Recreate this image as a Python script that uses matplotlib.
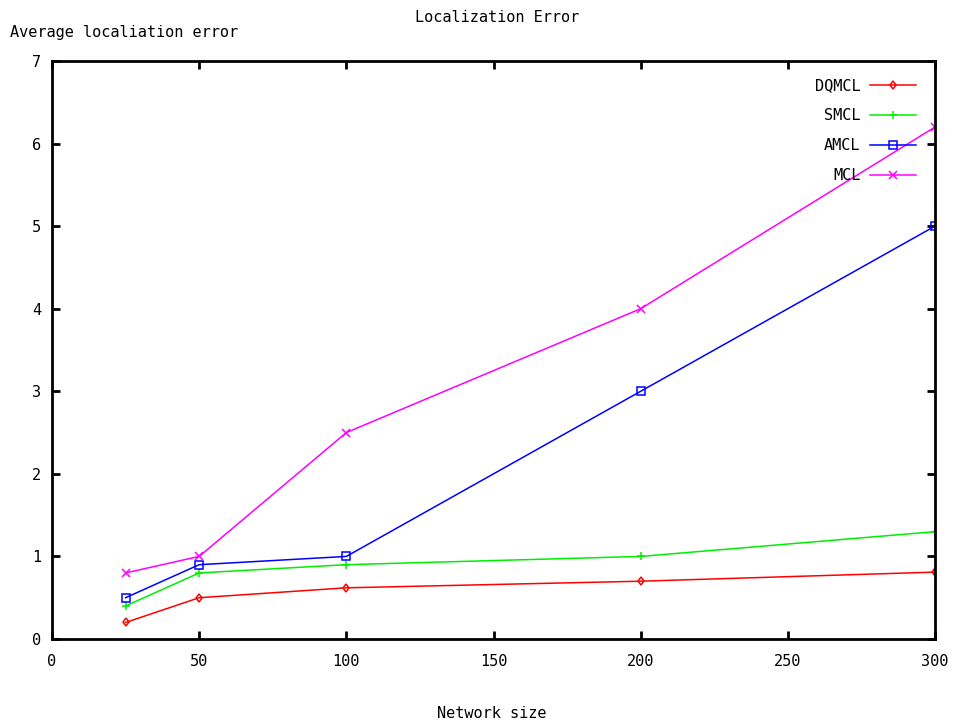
import matplotlib
matplotlib.use("Agg")
import matplotlib.pyplot as plt

# network sizes and average localization error per method
network_size = [25, 50, 100, 200, 300]
dqmcl = [0.2, 0.5, 0.62, 0.7, 0.81]
smcl = [0.4, 0.8, 0.9, 1.0, 1.3]
amcl = [0.5, 0.9, 1.0, 3.0, 5.0]
mcl = [0.8, 1.0, 2.5, 4.0, 6.2]

series = [
    ("DQMCL", dqmcl, "#ff0000", "d"),
    ("SMCL", smcl, "#00ee00", "+"),
    ("AMCL", amcl, "#0000ff", "s"),
    ("MCL", mcl, "#ff00ff", "x"),
]

plt.rcParams["font.family"] = ["DejaVu Sans Mono"]
plt.rcParams["font.size"] = 11

fig = plt.figure(figsize=(9.56, 7.25), dpi=100)
ax = fig.add_axes([52 / 956, 86 / 725, 883 / 956, 578 / 725])

for name, vals, col, mk in series:
    ax.plot(network_size, vals, color=col, lw=1.1, marker=mk,
            ms=4.5 if mk == "d" else 5.5,
            mfc="none" if mk in ("s", "d") else col, mec=col, mew=1.1,
            label=name)

ax.set_xlim(0, 300)
ax.set_ylim(0, 7)
ax.set_xticks(range(0, 301, 50))
ax.set_yticks(range(0, 8))
ax.tick_params(axis="both", direction="in", length=6, width=2, top=True, right=True,
               labelsize=11, colors="black")
ax.tick_params(axis="x", pad=11)
ax.tick_params(axis="y", pad=8)
for s in ax.spines.values():
    s.set_linewidth(2)

fig.text(497 / 956, 1 - 17 / 725, "Localization Error", ha="center", va="center", fontsize=11)
fig.text(10 / 956, 1 - 33 / 725, "Average localiation error", ha="left", va="center", fontsize=11)
fig.text(492 / 956, 1 - 713 / 725, "Network size", ha="center", va="center", fontsize=11)

ax.legend(loc="upper right", bbox_to_anchor=(0.978, 0.970), frameon=False,
          borderpad=0, borderaxespad=0,
          markerfirst=False, handlelength=3.0, labelspacing=0.98,
          handletextpad=0.6, fontsize=11)

fig.savefig("out.png", dpi=100)
